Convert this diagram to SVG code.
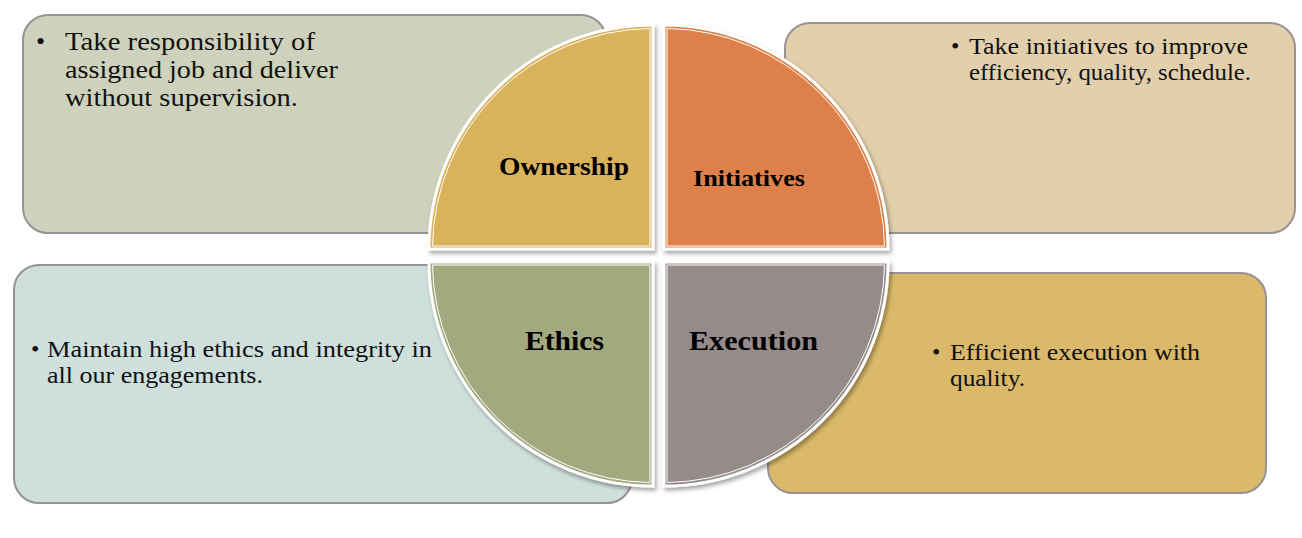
<svg xmlns="http://www.w3.org/2000/svg" width="1302" height="538" viewBox="0 0 1302 538">
<style>
.box{stroke:#9a9191;stroke-width:2}
.q{stroke:#ffffff;stroke-width:3}
.qi{fill:none;stroke:#ffffff;stroke-width:1}
.t{font-family:"Liberation Serif",serif;fill:#111111}
.lab{font-family:"Liberation Serif",serif;font-weight:bold;fill:#000000}
</style>
<defs>
<filter id="sh" x="-10%" y="-10%" width="120%" height="120%">
<feDropShadow dx="2" dy="3" stdDeviation="2" flood-color="#000000" flood-opacity="0.35"/>
</filter>
</defs>
<rect width="1302" height="538" fill="#ffffff"/>
<g id="box-ownership">
<rect class="box" x="23" y="15" width="583" height="218" rx="25" fill="#ced2bc"/>
<text class="t" font-size="26"><tspan x="36" y="50">•</tspan><tspan x="65" y="50" textLength="250" lengthAdjust="spacingAndGlyphs">Take responsibility of</tspan><tspan x="65" y="78" textLength="273" lengthAdjust="spacingAndGlyphs">assigned job and deliver</tspan><tspan x="65" y="106" textLength="233" lengthAdjust="spacingAndGlyphs">without supervision.</tspan></text>
</g>
<g id="box-initiatives">
<rect class="box" x="785" y="23" width="510" height="210" rx="25" fill="#e2d0ac"/>
<text class="t" font-size="24"><tspan x="951" y="54">•</tspan><tspan x="969" y="54" textLength="279" lengthAdjust="spacingAndGlyphs">Take initiatives to improve</tspan><tspan x="969" y="80" textLength="282" lengthAdjust="spacingAndGlyphs">efficiency, quality, schedule.</tspan></text>
</g>
<g id="box-ethics">
<rect class="box" x="14" y="265" width="618" height="238" rx="25" fill="#cedfdc"/>
<text class="t" font-size="24"><tspan x="31" y="357">•</tspan><tspan x="47" y="357" textLength="385" lengthAdjust="spacingAndGlyphs">Maintain high ethics and integrity in</tspan><tspan x="47" y="383" textLength="216" lengthAdjust="spacingAndGlyphs">all our engagements.</tspan></text>
</g>
<g id="box-execution">
<rect class="box" x="768" y="273" width="498" height="220" rx="25" fill="#dab96a"/>
<text class="t" font-size="24"><tspan x="932" y="360">•</tspan><tspan x="950" y="360" textLength="250" lengthAdjust="spacingAndGlyphs">Efficient execution with</tspan><tspan x="950" y="386" textLength="75" lengthAdjust="spacingAndGlyphs">quality.</tspan></text>
</g>
<g id="q-ownership">
<path class="q" filter="url(#sh)" d="M653 249 L429 249 A224 224 0 0 1 653 25 Z" fill="#d9b25c"/>
<path class="qi" d="M650 246 L432.5 246 A220.5 220.5 0 0 1 650 28.5 Z"/>
<text class="lab" font-size="26" x="499" y="175" textLength="130" lengthAdjust="spacingAndGlyphs">Ownership</text>
</g>
<g id="q-initiatives">
<path class="q" filter="url(#sh)" d="M664 249 L664 25 A224 224 0 0 1 888 249 Z" fill="#de8048"/>
<path class="qi" d="M667 246 L667 28.5 A220.5 220.5 0 0 1 884.5 246 Z"/>
<text class="lab" font-size="23" x="693" y="186" textLength="112" lengthAdjust="spacingAndGlyphs">Initiatives</text>
</g>
<g id="q-ethics">
<path class="q" filter="url(#sh)" d="M653 262 L653 486 A224 224 0 0 1 429 262 Z" fill="#a3a97e"/>
<path class="qi" d="M650 265 L650 482.5 A220.5 220.5 0 0 1 432.5 265 Z"/>
<text class="lab" font-size="28" x="525" y="350" textLength="79" lengthAdjust="spacingAndGlyphs">Ethics</text>
</g>
<g id="q-execution">
<path class="q" filter="url(#sh)" d="M664 262 L888 262 A224 224 0 0 1 664 486 Z" fill="#948b8a"/>
<path class="qi" d="M667 265 L884.5 265 A220.5 220.5 0 0 1 667 482.5 Z"/>
<text class="lab" font-size="28" x="689" y="350" textLength="129" lengthAdjust="spacingAndGlyphs">Execution</text>
</g>
<g id="connectors"/>
</svg>
